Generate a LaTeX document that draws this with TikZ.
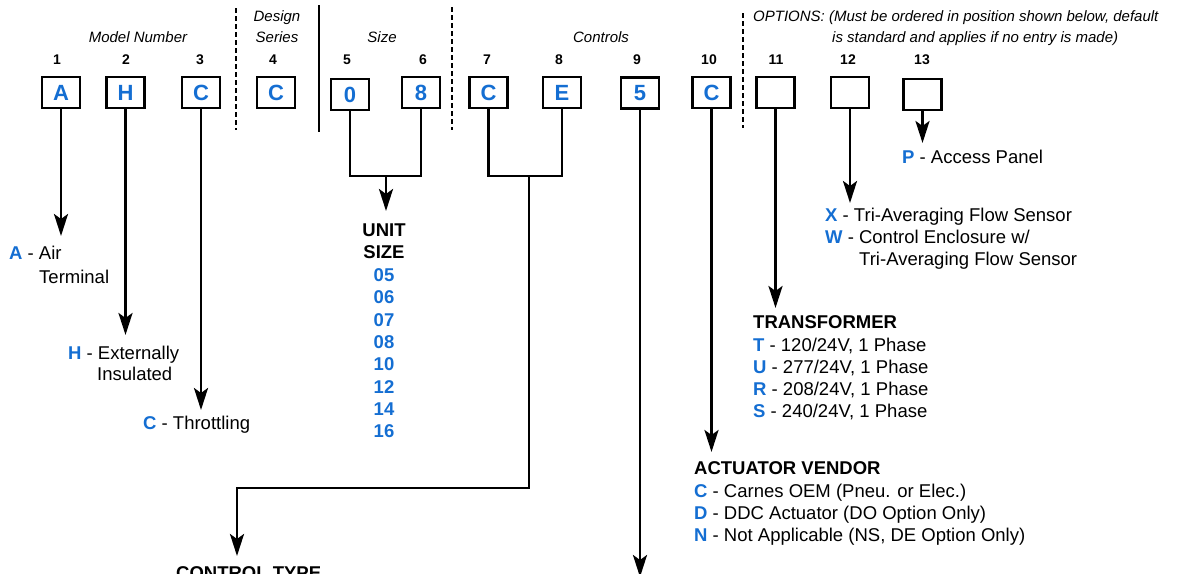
\documentclass[tikz,border=0pt]{standalone}
\usepackage{fontspec}
\setmainfont{Liberation Sans}
\usetikzlibrary{arrows.meta,positioning}
\definecolor{codeblue}{RGB}{20,110,210}
\newcommand{\opt}[1]{\textbf{\color{codeblue}#1}}

\begin{document}
\begin{tikzpicture}[
    x=1pt, y=-1pt,
    >={Stealth[length=22pt,width=14pt,inset=5pt]},
    slot/.style={rectangle, draw=black, line width=2.7pt, minimum width=38pt, minimum height=31pt, inner sep=0pt, text=codeblue, font=\fontsize{22}{26}\selectfont\bfseries},
    slotnum/.style={anchor=base, inner sep=0pt, font=\fontsize{14}{16}\selectfont\bfseries},
    grouplabel/.style={anchor=base, inner sep=0pt, font=\fontsize{15}{18}\selectfont\itshape},
    entrytext/.style={anchor=base west, inner sep=0pt, font=\fontsize{18.5}{22}\selectfont},
    entryhead/.style={anchor=base west, inner sep=0pt, font=\fontsize{18.5}{22}\selectfont\bfseries},
    sizeval/.style={anchor=base, inner sep=0pt, text=codeblue, font=\fontsize{18.5}{22}\selectfont\bfseries},
    stem/.style={line width=2.7pt},
    arco/.style={->, line width=2.7pt},
    divider/.style={line width=2.7pt, dash pattern=on 5pt off 3pt}
]
\useasboundingbox (0,0) rectangle (1196,573);
% ---------- code boxes ----------
\foreach \n/\x/\y/\t/\nx in {1/61/92.5/A/57, 2/125.5/92.5/H/126, 3/201/92.5/C/200, 4/276/92.5/C/273,
    5/350/94.5/0/347, 6/421/92.5/8/423, 7/488.5/92.5/C/487, 8/562/92.5/E/559, 9/640/93/5/637,
    10/711.5/92.5/C/709, 11/775.5/92.5/{}/776, 12/850/92.5/{}/848, 13/922.5/94.5/{}/922}{
  \node[slot] (b\n) at (\x,\y) {\t};
  \node[slotnum] (n\n) at (\nx,64) {\n};
}
% ---------- groups ----------
\draw[divider] (236,8) -- (236,130);
\draw[stem] (319,5) -- (319,132);
\draw[divider] (452,7) -- (452,130);
\draw[divider] (743,13) -- (743,128);
\node[grouplabel] (gmodel) at (138,42.4) {Model Number};
\node[grouplabel] (gdesign) at (277,21.4) {Design};
\node[grouplabel] (gseries) at (277,42.4) {Series};
\node[grouplabel] (gsize) at (382,42.4) {Size};
\node[grouplabel] (gctrl) at (601,42.4) {Controls};
\node[grouplabel, anchor=base west] (gopt) at (753,21.4) {OPTIONS: (Must be ordered in position shown below, default};
\node[grouplabel, anchor=base west] (gopt2) at (832,42.4) {is standard and applies if no entry is made)};
% ---------- model number ----------
\node[entrytext] (eA) at (9,259.6) {\opt{A} - Air};
\node[entrytext] (eA2) at (39,283.6) {Terminal};
\node[entrytext] (eH) at (68,359.6) {\opt{H} - Externally};
\node[entrytext] (eH2) at (97,380.6) {Insulated};
\node[entrytext] (eC) at (143,429.6) {\opt{C} - Throttling};
\coordinate (t1) at (61,236);
\coordinate (t2) at (125.5,335);
\coordinate (t3) at (201,410);
\draw[arco] (b1) -- (t1);
\draw[arco] (b2) -- (t2);
\draw[arco] (b3) -- (t3);
% ---------- size ----------
\coordinate (j56) at (386,176);
\coordinate (t56) at (386,211);
\draw[stem] (b5.south) -- (b5.south |- j56) -- (b6.south |- j56) -- (b6.south);
\draw[arco] (j56) -- (t56);
\node[entryhead, anchor=base] (unit) at (384,236.6) {UNIT};
\node[entryhead, anchor=base] (usize) at (384,258.6) {SIZE};
\foreach \s [count=\k] in {05,06,07,08,10,12,14,16}
  \node[sizeval] (s\s) at (384,{259.3+22.3*\k}) {\s};
% ---------- controls ----------
\coordinate (j78) at (529,176);
\coordinate (k78) at (237,488);
\coordinate (t78) at (237,556);
\draw[stem] (b7.south) -- (b7.south |- j78) -- (b8.south |- j78) -- (b8.south);
\draw[arco] (j78) |- (k78) -- (t78);
\node[entryhead] (ctype) at (176,579.2) {CONTROL TYPE};
\coordinate (t9) at (640,577);
\draw[arco] (b9) -- (t9);
\coordinate (t10) at (711.5,452);
\draw[arco] (b10) -- (t10);
\node[entryhead] (act) at (694,474.6) {ACTUATOR VENDOR};
\node[entrytext] (actC) at (694,497.6) {\opt{C} - Carnes OEM (Pneu. or Elec.)};
\node[entrytext] (actD) at (694,519.6) {\opt{D} - DDC Actuator (DO Option Only)};
\node[entrytext] (actN) at (694,541.6) {\opt{N} - Not Applicable (NS, DE Option Only)};
% ---------- options ----------
\coordinate (t11) at (775.5,308);
\draw[arco] (b11) -- (t11);
\node[entryhead] (trf) at (753,328.6) {TRANSFORMER};
\node[entrytext] (trfT) at (753,351.6) {\opt{T} - 120/24V, 1 Phase};
\node[entrytext] (trfU) at (753,373.6) {\opt{U} - 277/24V, 1 Phase};
\node[entrytext] (trfR) at (753,395.6) {\opt{R} - 208/24V, 1 Phase};
\node[entrytext] (trfS) at (753,417.6) {\opt{S} - 240/24V, 1 Phase};
\coordinate (t12) at (850,203);
\draw[arco] (b12) -- (t12);
\node[entrytext] (fsX) at (825,221.6) {\opt{X} - Tri-Averaging Flow Sensor};
\node[entrytext] (fsW) at (825,243.6) {\opt{W} - Control Enclosure w/};
\node[entrytext] (fsW2) at (859,265.6) {Tri-Averaging Flow Sensor};
\coordinate (t13) at (922.5,143);
\draw[arco] (b13) -- (t13);
\node[entrytext] (acc) at (902,163.6) {\opt{P} - Access Panel};
\end{tikzpicture}
\end{document}
